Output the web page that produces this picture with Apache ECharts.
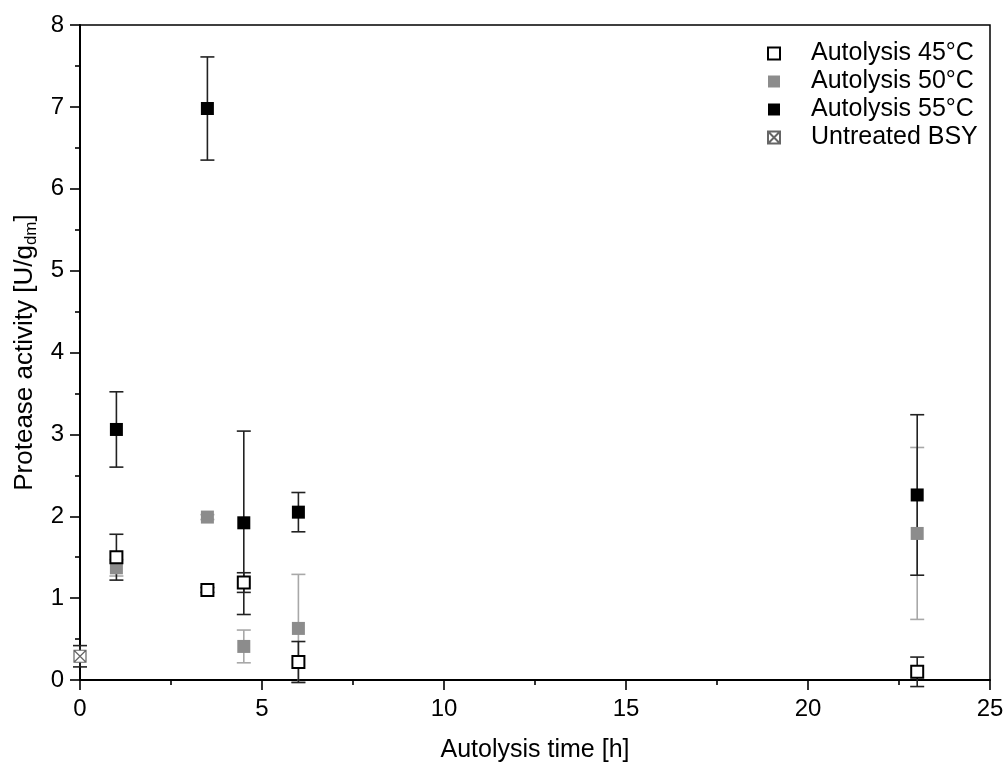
<!DOCTYPE html>
<html>
<head>
<meta charset="utf-8">
<script src="https://cdn.jsdelivr.net/npm/echarts@6/dist/echarts.min.js"></script>
<style>html,body{margin:0;padding:0;background:#fff}#c{width:1006px;height:764px}</style>
</head>
<body>
<div id="c"></div>
<script>
var times = [1, 3.5, 4.5, 6, 23];
var act45 = [1.50, 1.10, 1.19, 0.22, 0.10];
var err45 = [0.28, 0.03, 0.12, 0.25, 0.18];
var act50 = [1.37, 1.99, 0.41, 0.63, 1.79];
var err50 = [0.10, 0.03, 0.20, 0.66, 1.05];
var act55 = [3.06, 6.98, 1.92, 2.05, 2.26];
var err55 = [0.46, 0.63, 1.12, 0.24, 0.98];
var timeUntreated = [0];
var actUntreated = [0.29];
var errUntreated = [0.13];
var seriesNames = ['Autolysis 45°C', 'Autolysis 50°C', 'Autolysis 55°C', 'Untreated BSY'];

function pts(t, v) { return t.map(function (x, i) { return [x, v[i]]; }); }
function errs(t, v, e) { return t.map(function (x, i) { return [x, v[i] - e[i], v[i] + e[i]]; }); }

function errSeries(data, color) {
  return {
    type: 'custom',
    z: 1,
    silent: true,
    clip: false,
    data: data,
    renderItem: function (params, api) {
      var x = api.value(0);
      var lo = api.coord([x, api.value(1)]);
      var hi = api.coord([x, api.value(2)]);
      var w = 7;
      var st = { stroke: color, lineWidth: 1.6 };
      return {
        type: 'group',
        children: [
          { type: 'line', shape: { x1: lo[0], y1: lo[1], x2: hi[0], y2: hi[1] }, style: st },
          { type: 'line', shape: { x1: lo[0] - w, y1: lo[1], x2: lo[0] + w, y2: lo[1] }, style: st },
          { type: 'line', shape: { x1: hi[0] - w, y1: hi[1], x2: hi[0] + w, y2: hi[1] }, style: st }
        ]
      };
    }
  };
}

var chart = echarts.init(document.getElementById('c'), null, { renderer: 'canvas' });
var font = 'Liberation Sans, Arial, sans-serif';
chart.setOption({
  animation: false,
  textStyle: { fontFamily: font },
  grid: {
    left: 80, right: 16, top: 25, bottom: 84, containLabel: false, outerBoundsMode: 'none',
    show: true, borderColor: '#000', borderWidth: 1.5, backgroundColor: 'transparent'
  },
  legend: {
    data: seriesNames,
    orient: 'vertical',
    left: 762,
    top: 36,
    itemWidth: 12,
    itemHeight: 12,
    itemGap: 3,
    textStyle: { fontSize: 25, color: '#000', fontFamily: font, padding: [0, 0, 8, 26] }
  },
  xAxis: {
    type: 'value', min: 0, max: 25, interval: 5,
    name: 'Autolysis time [h]', nameLocation: 'middle', nameGap: 58,
    nameTextStyle: { fontSize: 25, color: '#000', fontFamily: font },
    axisLine: { onZero: false, lineStyle: { color: '#000', width: 2 } },
    axisTick: { show: true, length: 10, lineStyle: { color: '#000', width: 1.6 } },
    minorTick: { show: true, splitNumber: 2, length: 5, lineStyle: { color: '#000', width: 1.6 } },
    splitLine: { show: false },
    axisLabel: { fontSize: 24, color: '#000', margin: 17, fontFamily: font }
  },
  yAxis: {
    type: 'value', min: 0, max: 8, interval: 1,
    name: 'Protease activity [U/g{sub|dm}]', nameLocation: 'middle', nameGap: 40,
    nameTextStyle: {
      fontSize: 26, color: '#000', fontFamily: font, lineHeight: 30,
      rich: { sub: { fontSize: 17, fontFamily: font, color: '#000', verticalAlign: 'bottom', lineHeight: 15 } }
    },
    axisLine: { onZero: false, lineStyle: { color: '#000', width: 2 } },
    axisTick: { show: true, length: 10, lineStyle: { color: '#000', width: 1.6 } },
    minorTick: { show: true, splitNumber: 2, length: 5, lineStyle: { color: '#000', width: 1.6 } },
    splitLine: { show: false },
    axisLabel: { fontSize: 24, color: '#000', margin: 16, fontFamily: font }
  },
  series: [
    errSeries(errs(times, act50, err50), '#a8a8a8'),
    errSeries(errs(times, act45, err45), '#222'),
    errSeries(errs(times, act55, err55), '#222'),
    errSeries(errs(timeUntreated, actUntreated, errUntreated), '#222'),
    {
      name: seriesNames[0], type: 'scatter', z: 3, symbol: 'rect', symbolSize: 12,
      itemStyle: { color: '#fff', borderColor: '#000', borderWidth: 2, opacity: 1 },
      data: pts(times, act45)
    },
    {
      name: seriesNames[1], type: 'scatter', z: 2, symbol: 'rect', symbolSize: 13,
      itemStyle: { color: '#8c8c8c', opacity: 1 },
      data: pts(times, act50)
    },
    {
      name: seriesNames[2], type: 'scatter', z: 3, symbol: 'rect', symbolSize: 13,
      itemStyle: { color: '#000', opacity: 1 },
      data: pts(times, act55)
    },
    {
      name: seriesNames[3], type: 'scatter', z: 3,
      symbol: 'path://M0,0 L10,0 L10,10 L0,10 Z M0,0 L10,10 M10,0 L0,10', symbolSize: 12,
      itemStyle: { color: '#fff', borderColor: '#666', borderWidth: 1.2, opacity: 1 },
      data: pts(timeUntreated, actUntreated)
    }
  ]
});
</script>
</body>
</html>
